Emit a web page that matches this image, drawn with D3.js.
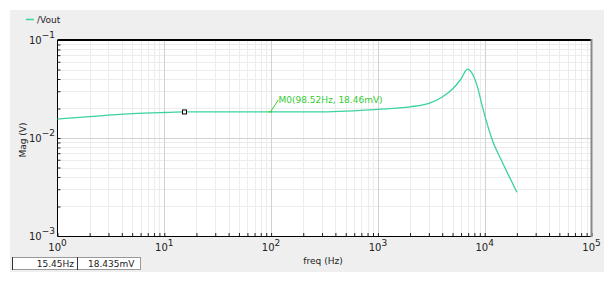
<!DOCTYPE html>
<html>
<head>
<meta charset="utf-8">
<script src="https://cdn.jsdelivr.net/npm/d3@7"></script>
<style>
body { margin: 0; background: #fff; overflow: hidden; }
text { font-family: "DejaVu Sans", sans-serif; fill: #222; }
</style>
</head>
<body>
<svg width="616" height="286"></svg>
<script>
// response of /Vout
const freq = [1, 2, 3, 5, 10, 15.45, 30, 98.52, 300, 1000, 2000, 3000, 4000, 5000, 6000, 6900, 7500, 8500, 9550, 11800, 14700, 20000];
const vout = [0.0156, 0.0165, 0.0171, 0.0177, 0.0182, 0.018435, 0.01845, 0.01846, 0.0185, 0.0196, 0.0208, 0.0225, 0.0262, 0.0316, 0.040, 0.0505, 0.047, 0.034, 0.0205, 0.0095, 0.0056, 0.0028];
const xExp = [0, 1, 2, 3, 4, 5];
const yExp = [-3, -2, -1];
const marker = { f: 98.52, v: 0.01846, label: 'M0(98.52Hz, 18.46mV)' };
const cursor = { f: 15.45, v: 0.018435, fText: '15.45Hz', vText: '18.435mV' };

const svg = d3.select('svg');
const pLeft = 57.5, pRight = 591.5, pTop = 40, pBottom = 236;

svg.append('rect').attr('x', 10).attr('y', 10).attr('width', 594).attr('height', 262).attr('fill', '#efefef');
svg.append('rect').attr('x', pLeft).attr('y', pTop).attr('width', pRight - pLeft).attr('height', pBottom - pTop).attr('fill', '#fff');

const x = d3.scaleLog().domain([1, 1e5]).range([pLeft, pRight]);
const y = d3.scaleLog().domain([1e-3, 1e-1]).range([pBottom, pTop]);

// grid
const minorX = [], minorY = [];
for (let e = 0; e < 5; e++) for (let k = 2; k < 10; k++) minorX.push(k * Math.pow(10, e));
for (let e = -3; e < -1; e++) for (let k = 2; k < 10; k++) minorY.push(k * Math.pow(10, e));
const grid = svg.append('g');
grid.selectAll('.mx').data(minorX).join('line')
  .attr('x1', d => Math.round(x(d)) + 0.5).attr('x2', d => Math.round(x(d)) + 0.5)
  .attr('y1', pTop).attr('y2', pBottom).attr('stroke', '#ececec');
grid.selectAll('.my').data(minorY).join('line')
  .attr('y1', d => Math.round(y(d)) + 0.5).attr('y2', d => Math.round(y(d)) + 0.5)
  .attr('x1', pLeft).attr('x2', pRight).attr('stroke', '#ececec');
grid.selectAll('.Mx').data(xExp.slice(1, -1)).join('line')
  .attr('x1', d => Math.round(x(Math.pow(10, d))) + 0.5).attr('x2', d => Math.round(x(Math.pow(10, d))) + 0.5)
  .attr('y1', pTop).attr('y2', pBottom).attr('stroke', '#d2d2d2');
grid.selectAll('.My').data([-2]).join('line')
  .attr('y1', d => Math.round(y(Math.pow(10, d))) + 0.5).attr('y2', d => Math.round(y(Math.pow(10, d))) + 0.5)
  .attr('x1', pLeft).attr('x2', pRight).attr('stroke', '#d2d2d2');

// axes (ticks inward, labels drawn separately)
const xAxis = d3.axisTop(x).tickValues(minorX.concat(xExp.map(e => Math.pow(10, e)))).tickSize(3).tickFormat('');
svg.append('g').attr('transform', `translate(0,${pBottom})`).call(xAxis)
  .call(g => g.select('.domain').remove())
  .call(g => g.selectAll('line').attr('stroke', '#222'));
const yAxis = d3.axisRight(y).tickValues(minorY.concat(yExp.map(e => Math.pow(10, e)))).tickSize(3).tickFormat('');
svg.append('g').attr('transform', `translate(${pLeft},0)`).call(yAxis)
  .call(g => g.select('.domain').remove())
  .call(g => g.selectAll('line').attr('stroke', '#222'));

svg.append('line').attr('x1', pLeft).attr('x2', pRight).attr('y1', pTop).attr('y2', pTop).attr('stroke', '#000').attr('stroke-width', 2);
svg.append('line').attr('x1', pLeft).attr('x2', pLeft).attr('y1', pTop).attr('y2', pBottom).attr('stroke', '#000');
svg.append('line').attr('x1', pLeft).attr('x2', pRight).attr('y1', pBottom + 0.5).attr('y2', pBottom + 0.5).attr('stroke', '#000');
svg.append('line').attr('x1', pRight).attr('x2', pRight).attr('y1', pTop - 1).attr('y2', pBottom + 1).attr('stroke', '#888').attr('stroke-width', 2);

// tick labels
const xl = svg.append('g').selectAll('text').data(xExp).join('text')
  .attr('x', d => x(Math.pow(10, d))).attr('y', 251)
  .attr('text-anchor', 'middle').attr('font-size', 10);
xl.append('tspan').text('10');
xl.append('tspan').attr('dy', -5).attr('font-size', 9).text(d => d);

const yl = svg.append('g').selectAll('text').data(yExp).join('text')
  .attr('x', 55).attr('y', d => y(Math.pow(10, d)) + 4)
  .attr('text-anchor', 'end').attr('font-size', 10);
yl.append('tspan').text('10');
yl.append('tspan').attr('dy', -6).attr('font-size', 9).text(d => '\u2212' + Math.abs(d));

svg.append('text').attr('x', 323).attr('y', 264).attr('text-anchor', 'middle').attr('font-size', 9).text('freq (Hz)');
svg.append('text').attr('transform', 'translate(26,140) rotate(-90)').attr('text-anchor', 'middle').attr('font-size', 9).text('Mag (V)');

// legend
svg.append('line').attr('x1', 26).attr('x2', 34).attr('y1', 19.5).attr('y2', 19.5).attr('stroke', '#3ad39c').attr('stroke-width', 1.5);
svg.append('text').attr('x', 37).attr('y', 22.5).attr('font-size', 9).text('/Vout');

// curve
const pts = freq.map((f, i) => [f, vout[i]]);
svg.append('path').datum(pts)
  .attr('fill', 'none').attr('stroke', '#3ad39c').attr('stroke-width', 1.3)
  .attr('d', d3.line().x(d => x(d[0])).y(d => y(d[1])).curve(d3.curveMonotoneX));

// marker M0
const mx = x(marker.f), my = y(marker.v);
svg.append('line').attr('x1', mx).attr('y1', my).attr('x2', mx + 8).attr('y2', my - 12).attr('stroke', '#33cc33');
svg.append('line').attr('x1', mx - 2).attr('y1', my).attr('x2', mx + 2).attr('y2', my).attr('stroke', '#33cc33');
svg.append('text').attr('x', mx + 8).attr('y', my - 9).attr('font-size', 9).style('fill', '#33cc33').text(marker.label);

// cursor point
svg.append('rect').attr('x', x(cursor.f) - 2).attr('y', y(cursor.v) - 2).attr('width', 4).attr('height', 4)
  .attr('fill', '#fff').attr('stroke', '#000');

// status boxes
svg.append('rect').attr('x', 12.5).attr('y', 257.5).attr('width', 65).attr('height', 12).attr('fill', '#fff').attr('stroke', '#999');
svg.append('rect').attr('x', 77.5).attr('y', 257.5).attr('width', 63).attr('height', 12).attr('fill', '#fff').attr('stroke', '#999');
svg.append('line').attr('x1', 12.5).attr('x2', 12.5).attr('y1', 257).attr('y2', 270).attr('stroke', '#333');
svg.append('line').attr('x1', 77.5).attr('x2', 77.5).attr('y1', 257).attr('y2', 270).attr('stroke', '#333');
svg.append('text').attr('x', 74).attr('y', 267).attr('text-anchor', 'end').attr('font-size', 9).text(cursor.fText);
svg.append('text').attr('x', 88).attr('y', 267).attr('font-size', 9).text(cursor.vText);
</script>
</body>
</html>
